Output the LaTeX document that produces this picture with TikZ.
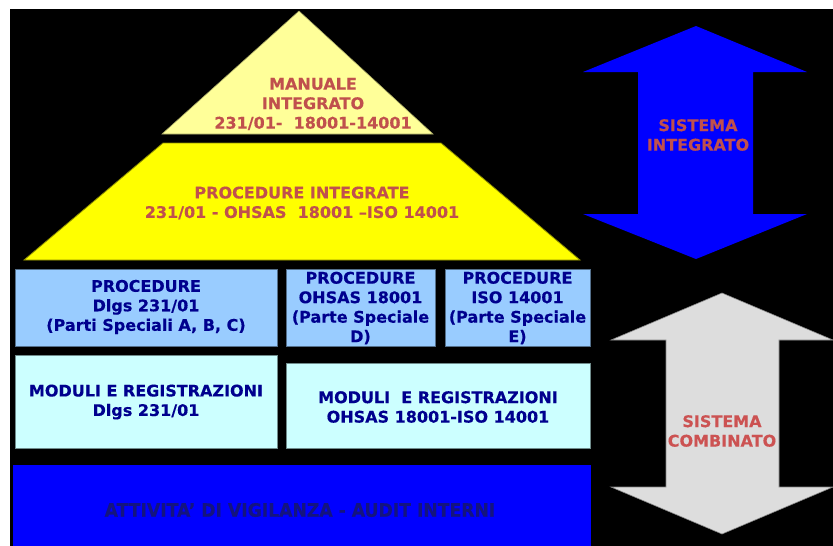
\documentclass[tikz,border=0pt]{standalone}
\usepackage{fontspec}
\setmainfont{DejaVu Sans}[BoldFeatures={FakeBold=0.4}]
\newfontfamily\condfont{DejaVu Sans}[FakeStretch=0.93,BoldFeatures={FakeBold=0.4}]
\definecolor{redtxt}{HTML}{C0504D}
\definecolor{redtxtb}{HTML}{CC5252}
\definecolor{navytxt}{HTML}{00008E}
\definecolor{darktxt}{HTML}{14147E}
\definecolor{paleyellow}{HTML}{FFFF99}
\definecolor{lightblue}{HTML}{99CCFF}
\definecolor{lightcyan}{HTML}{CCFFFF}
\definecolor{arrowgray}{HTML}{DDDDDD}
\definecolor{pureyellow}{HTML}{FFFF00}
\tikzset{
  lbl/.style={inner sep=0pt, align=center, font=\fontsize{16}{19.5}\selectfont\bfseries},
  redlbl/.style={lbl, text=redtxt},
  navylbl/.style={lbl, text=navytxt},
  bluebox/.style={fill=lightblue, draw=black!45!lightblue, line width=0.6pt},
  cyanbox/.style={fill=lightcyan, draw=black!45!lightcyan, line width=0.6pt},
}
\begin{document}
\begin{tikzpicture}[x=1pt,y=-1pt]
\useasboundingbox (0,0) rectangle (833,546);
\fill[white] (0,0) rectangle (833,546);
\fill[black] (10,9) rectangle (833,546);
% pyramid
\path[fill=paleyellow, draw=black!35!paleyellow, line width=0.6pt] (299,11) -- (433,134) -- (162,134) -- cycle;
\path[fill=pureyellow, draw=black!45!pureyellow, line width=0.8pt] (163,143) -- (441,143) -- (580,260) -- (24,260) -- cycle;
\node[redlbl] (manuale) at (313,104) {MANUALE\\INTEGRATO\\231/01-\ \ 18001-14001};
\node[redlbl] (procint) at (302,203) {PROCEDURE INTEGRATE\\231/01 - OHSAS\ \ 18001 –ISO 14001};
% row 1
\path[bluebox] (15,269) rectangle (277,346);
\path[bluebox] (286,269) rectangle (435,346);
\path[bluebox] (445,269) rectangle (590,346);
\node[navylbl] (procA) at (146,307) {PROCEDURE\\Dlgs 231/01\\(Parti Speciali A, B, C)};
\node[navylbl] (procB) at (360.5,308) {PROCEDURE\\OHSAS 18001\\(Parte Speciale\\D)};
\node[navylbl] (procC) at (517.5,308) {PROCEDURE\\ISO 14001\\(Parte Speciale\\E)};
% row 2
\path[cyanbox] (15,355) rectangle (277,448);
\path[cyanbox] (286,363) rectangle (590,448);
\node[navylbl] (modA) at (146,402) {MODULI E REGISTRAZIONI\\Dlgs 231/01};
\node[navylbl] (modB) at (438,407) {MODULI\ \ E REGISTRAZIONI\\OHSAS 18001-ISO 14001};
% bottom bar
\fill[blue] (13,465) rectangle (591,546);
\node[inner sep=0pt, text=darktxt, font=\condfont\fontsize{18.5}{20}\selectfont\bfseries] (audit) at (300,510) {ATTIVITA’ DI VIGILANZA - AUDIT INTERNI};
% arrows
\path[fill=blue] (696,26) -- (807,72) -- (753,72) -- (753,214) -- (807,214) -- (696,259) -- (583,214) -- (638,214) -- (638,72) -- (583,72) -- cycle;
\node[redlbl] (integ) at (698,135) {SISTEMA\\INTEGRATO};
\path[fill=arrowgray, draw=black!40!arrowgray, line width=0.6pt] (722,293) -- (833,340) -- (779,340) -- (779,487) -- (833,487) -- (722,534) -- (611,487) -- (666,487) -- (666,340) -- (611,340) -- cycle;
\node[lbl, text=redtxtb] (comb) at (722,431) {SISTEMA\\COMBINATO};
\end{tikzpicture}
\end{document}
